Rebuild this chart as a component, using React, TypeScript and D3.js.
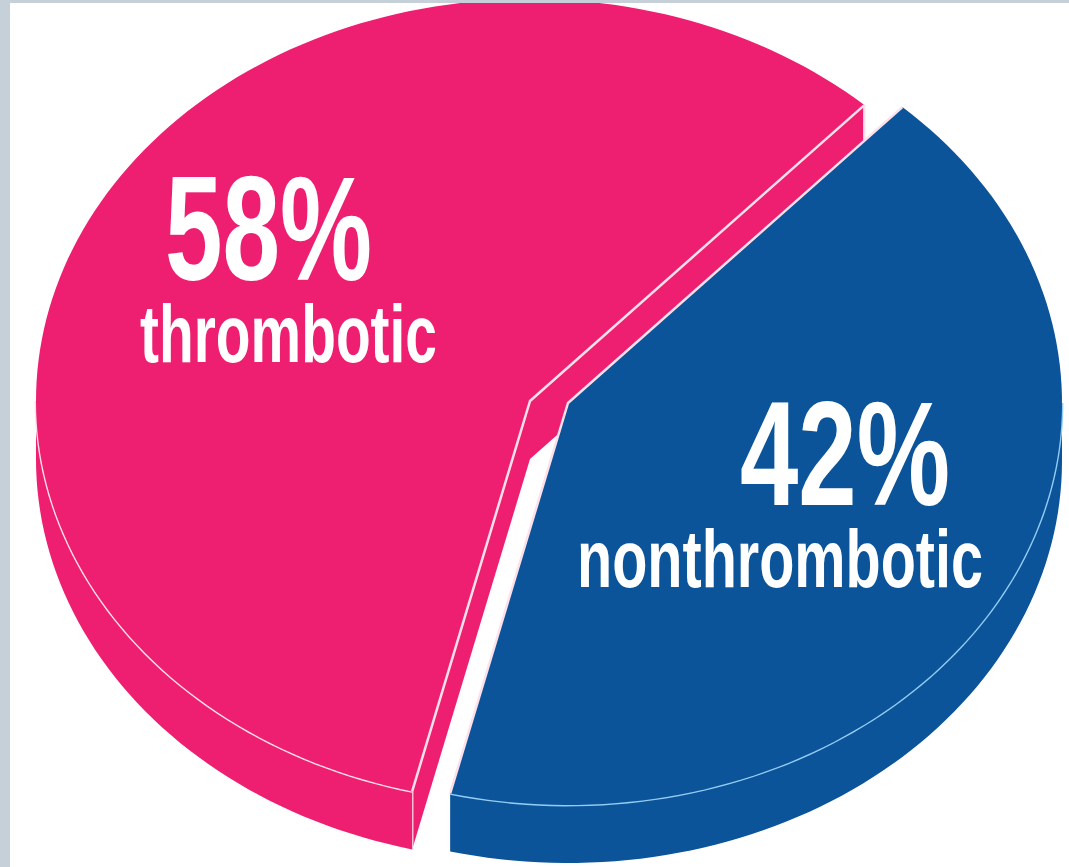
import React from "react";
import * as d3 from "d3";

// ---- data ----
const categories = ["thrombotic", "nonthrombotic"];
const percentages = [58, 42];
const percentLabels = ["58%", "42%"];

// ---- style ----
const sliceColors = ["#EE1F70", "#0B5499"];
const rimColors = ["#FCE0EA", "#93CCF4"];
const edgeColor = "#FCE0EA";

const W = 1069;
const H = 867;
const CX = 530;
const CY = 401;
const RX = 494;
const RY = 402;
const DEPTH = 58;
const START = (193.8 * Math.PI) / 180;
const explode = [
  [0, 0],
  [38, 2],
];
// label layout: [pctX, pctBaseline, pctWidth, nameX, nameBaseline, nameWidth]
const labelLayout = [
  [165, 280, 207, 140, 362, 297],
  [740, 505, 210, 577, 587, 406],
];

type Pt = [number, number];

function proj(t: number, z: number, ox: number, oy: number): Pt {
  return [CX + ox + RX * Math.sin(t), CY + oy - RY * Math.cos(t) + z];
}

function arcPts(a0: number, a1: number, z: number, ox: number, oy: number): Pt[] {
  const n = Math.max(2, Math.ceil((Math.abs(a1 - a0) / Math.PI) * 120));
  return d3.range(n + 1).map((i) => proj(a0 + ((a1 - a0) * i) / n, z, ox, oy));
}

const line = d3.line<Pt>();

function frontParts(a0: number, a1: number): [number, number][] {
  const out: [number, number][] = [];
  for (let k = -1; k <= 2; k++) {
    const lo = Math.PI / 2 + 2 * Math.PI * k;
    const hi = (3 * Math.PI) / 2 + 2 * Math.PI * k;
    const s = Math.max(a0, lo);
    const e = Math.min(a1, hi);
    if (e > s) out.push([s, e]);
  }
  return out;
}

export default function App() {
  const pie = d3
    .pie<number>()
    .sort(null)
    .value((d) => d)
    .startAngle(START)
    .endAngle(START + 2 * Math.PI);
  const arcs = pie(percentages);

  return (
    <svg
      width={W}
      height={H}
      viewBox={`0 0 ${W} ${H}`}
      style={{ position: "fixed", left: 0, top: 0, background: "#fff" }}
    >
      <rect x={0} y={0} width={W} height={H} fill="#ffffff" />
      {arcs.map((a, i) => {
        const [ox, oy] = explode[i];
        const a0 = a.startAngle;
        const a1 = a.endAngle;
        const apexTop: Pt = [CX + ox, CY + oy];
        const apexBot: Pt = [CX + ox, CY + oy + DEPTH];
        const color = sliceColors[i];

        // outer walls (front half only)
        const walls = frontParts(a0, a1).map(([s, e], j) => {
          const top = arcPts(s, e, 0, ox, oy);
          const bot = arcPts(s, e, DEPTH, ox, oy).reverse();
          return (
            <g key={`w${j}`}>
              <path d={line([...top, ...bot]) + "Z"} fill={color} />
              <path d={line(top) || ""} fill="none" stroke={rimColors[i]} strokeWidth={2.8} />
            </g>
          );
        });

        // visible radial cut faces
        const faces: JSX.Element[] = [];
        const addFace = (t: number, key: string) => {
          const pT = proj(t, 0, ox, oy);
          const pB = proj(t, DEPTH, ox, oy);
          faces.push(
            <g key={key}>
              <path d={line([apexTop, pT, pB, apexBot]) + "Z"} fill={color} />
              <path d={line([pT, pB]) || ""} fill="none" stroke={edgeColor} strokeWidth={2.5} />
            </g>
          );
        };
        if (Math.sin(a0) < 0) addFace(a0, "fs");
        if (Math.sin(a1) > 0) addFace(a1, "fe");

        const topPts = [apexTop, ...arcPts(a0, a1, 0, ox, oy)];
        const pA0 = proj(a0, 0, ox, oy);
        const pA1 = proj(a1, 0, ox, oy);

        return (
          <g key={categories[i]}>
            {faces}
            {walls}
            <path d={line(topPts) + "Z"} fill={color} />
            <path
              d={line([pA0, apexTop, pA1]) || ""}
              fill="none"
              stroke={edgeColor}
              strokeWidth={2.5}
              strokeLinejoin="round"
            />
          </g>
        );
      })}
      {/* labels */}
      {categories.map((c, i) => {
        const [px, py, pw, nx, ny, nw] = labelLayout[i];
        return (
          <g
            key={`lbl-${c}`}
            fill="#ffffff"
            fontFamily="'Liberation Sans Narrow', 'Arial Narrow', 'Liberation Sans', Arial, sans-serif"
            fontWeight="bold"
          >
            <text x={px} y={py} fontSize={148} textLength={pw} lengthAdjust="spacingAndGlyphs">
              {percentLabels[i]}
            </text>
            <text x={nx} y={ny} fontSize={82} textLength={nw} lengthAdjust="spacingAndGlyphs">
              {c}
            </text>
          </g>
        );
      })}
      {/* frame strips */}
      <rect x={0} y={0} width={10} height={H} fill="#C6D0D8" />
      <rect x={0} y={0} width={W} height={3} fill="#C6D0D8" />
    </svg>
  );
}
